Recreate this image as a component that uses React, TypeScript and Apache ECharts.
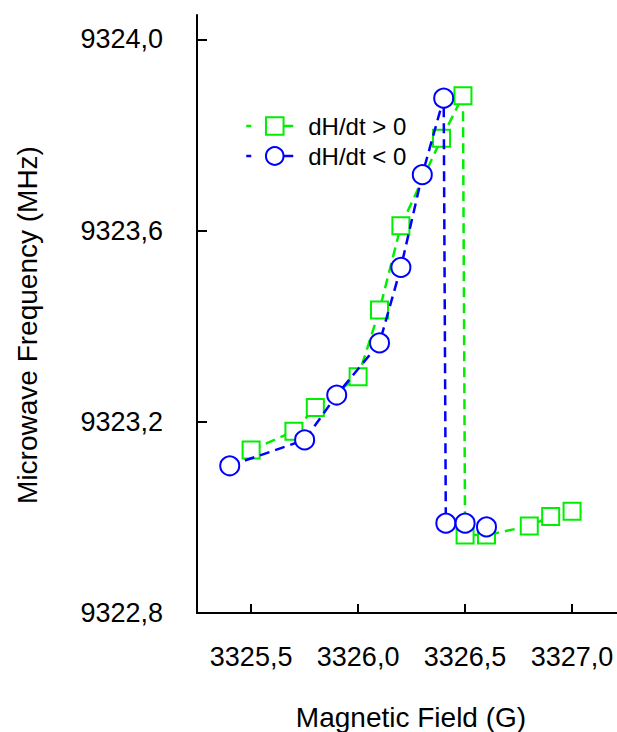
import React, { useEffect, useRef } from "react";
import * as echarts from "echarts";

const fieldUp = [3325.5, 3325.7, 3325.8, 3326.0, 3326.1, 3326.2, 3326.39, 3326.49, 3326.5, 3326.6, 3326.8, 3326.9, 3327.0];
const freqUp = [9323.141, 9323.18, 9323.23, 9323.294, 9323.434, 9323.61, 9323.793, 9323.882, 9322.963, 9322.963, 9322.982, 9323.002, 9323.013];

const fieldDown = [3325.4, 3325.75, 3325.9, 3326.1, 3326.2, 3326.3, 3326.4, 3326.41, 3326.5, 3326.6];
const freqDown = [9323.108, 9323.162, 9323.256, 9323.365, 9323.523, 9323.717, 9323.877, 9322.988, 9322.988, 9322.98];

const xTicks = [3325.5, 3326.0, 3326.5, 3327.0];
const yTicks = [9322.8, 9323.2, 9323.6, 9324.0];

const seriesNames = ["dH/dt > 0", "dH/dt < 0"];
const xTitle = "Magnetic Field (G)";
const yTitle = "Microwave Frequency (MHz)";

const GREEN = "#00ee00";
const BLUE = "#0000ff";
const FONT = "'Liberation Sans', Arial, sans-serif";

export default function App() {
  const ref = useRef<HTMLDivElement>(null);
  useEffect(() => {
    if (!ref.current) return;
    const chart = echarts.init(ref.current, null, { renderer: "svg" });
    const fmt = (v: number) => v.toFixed(1).replace(".", ",");
    const axisCommon = {
      axisLine: { show: true, onZero: false, lineStyle: { color: "#000", width: 2 } },
      splitLine: { show: false },
    };
    const legendLine = { type: [5, 32, 10, 30], width: 2.5 };
    chart.setOption({
      animation: false,
      backgroundColor: "#fff",
      grid: { left: 197, top: 15, right: 0, bottom: 119, containLabel: false },
      xAxis: {
        type: "value",
        min: 3325.247,
        max: 3327.21,
        ...axisCommon,
        axisTick: { show: true, inside: true, length: 9, customValues: xTicks, lineStyle: { color: "#000", width: 2 } },
        axisLabel: { customValues: xTicks, formatter: fmt, margin: 30, fontSize: 27, color: "#000", fontFamily: FONT },
      },
      yAxis: {
        type: "value",
        min: 9322.8,
        max: 9324.051,
        ...axisCommon,
        axisTick: { show: true, inside: true, length: 10, customValues: yTicks, lineStyle: { color: "#000", width: 2 } },
        axisLabel: { customValues: yTicks, formatter: fmt, margin: 34, fontSize: 27, color: "#000", fontFamily: FONT },
      },
      legend: {
        orient: "vertical",
        left: 240,
        top: 109,
        itemWidth: 57,
        itemHeight: 22,
        itemGap: 6,
        data: seriesNames.map((n) => ({ name: n, lineStyle: legendLine })),
        textStyle: { fontSize: 24, color: "#000", fontFamily: FONT },
        lineStyle: legendLine,
      },
      graphic: [
        {
          type: "text",
          x: 411,
          y: 717,
          style: { text: xTitle, fontSize: 28, fontFamily: FONT, fill: "#000", textAlign: "center", textVerticalAlign: "middle" },
        },
        {
          type: "text",
          x: 27,
          y: 325,
          rotation: Math.PI / 2,
          style: { text: yTitle, fontSize: 28, fontFamily: FONT, fill: "#000", textAlign: "center", textVerticalAlign: "middle" },
        },
      ],
      series: [
        {
          name: seriesNames[0],
          type: "line",
          data: fieldUp.map((x, i) => [x, freqUp[i]]),
          symbol: "emptyRect",
          symbolSize: 17,
          color: GREEN,
          lineStyle: { color: GREEN, width: 2.5, type: [10, 6] },
          itemStyle: { color: GREEN, borderColor: GREEN, borderWidth: 1.5 },
          z: 2,
        },
        {
          name: seriesNames[1],
          type: "line",
          data: fieldDown.map((x, i) => [x, freqDown[i]]),
          symbol: "emptyCircle",
          symbolSize: 19,
          color: BLUE,
          lineStyle: { color: BLUE, width: 2.5, type: [10, 6] },
          itemStyle: { color: BLUE, borderColor: BLUE, borderWidth: 1.5 },
          z: 3,
        },
      ],
    });
    return () => chart.dispose();
  }, []);
  return (
    <div
      ref={ref}
      style={{ position: "fixed", left: 0, top: 0, width: 617, height: 732, background: "#fff" }}
    />
  );
}
